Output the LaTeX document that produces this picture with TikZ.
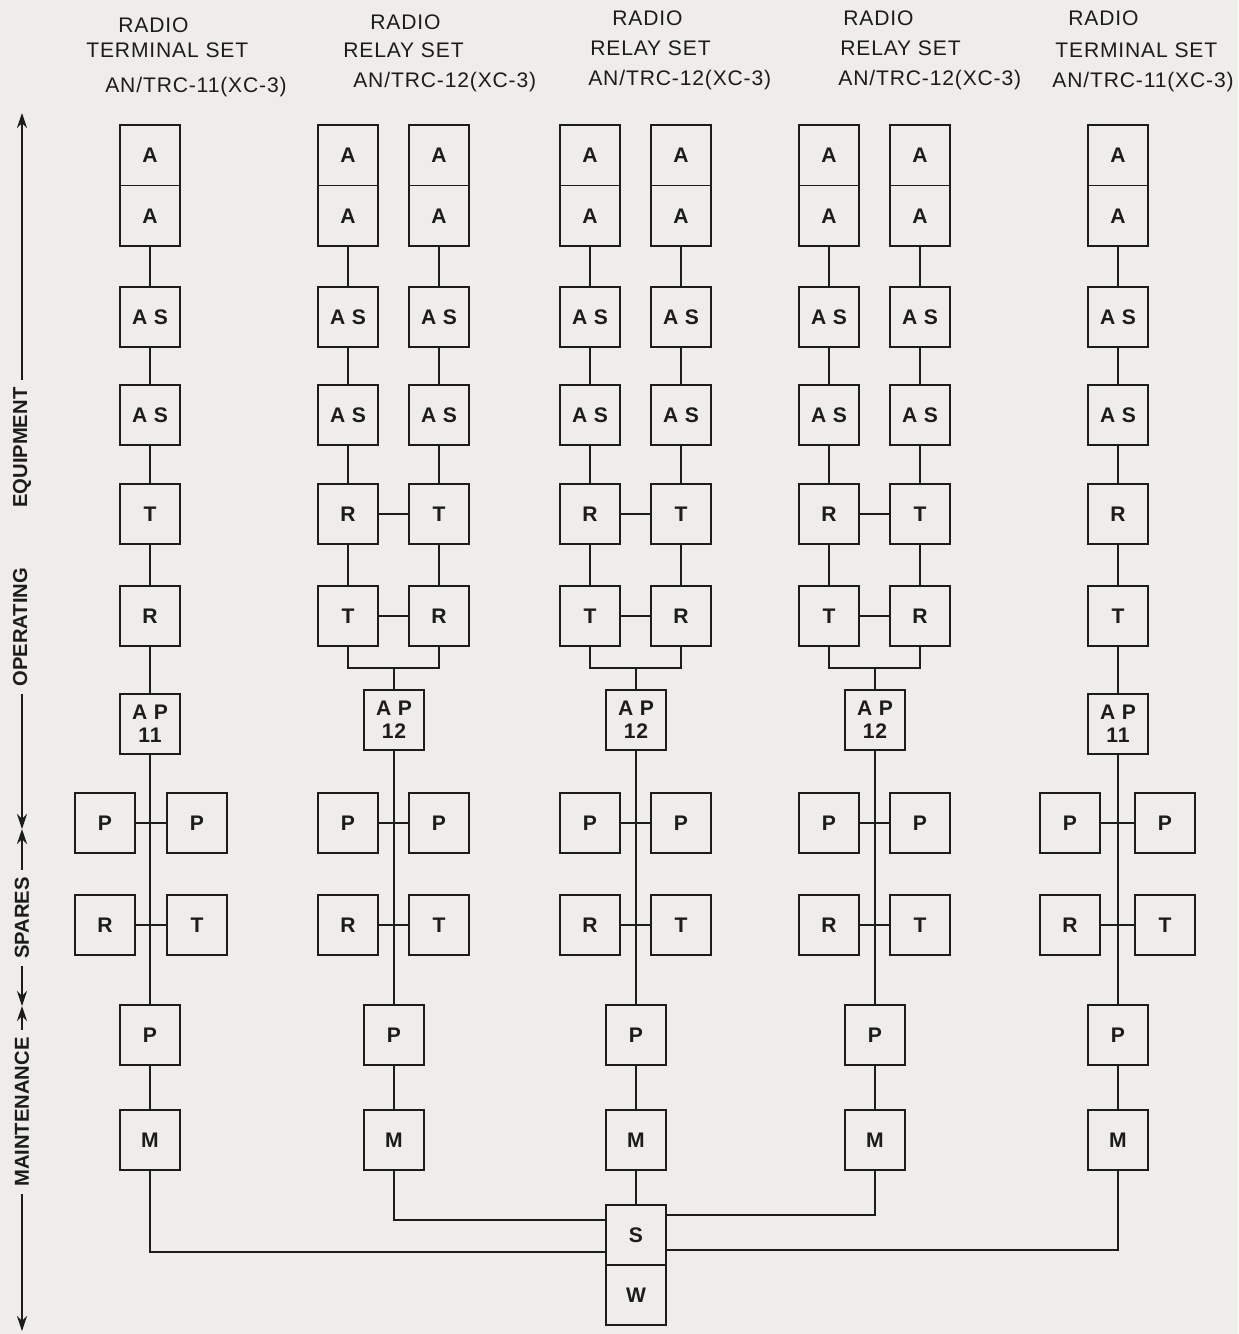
\documentclass[tikz,border=0pt]{standalone}
\usepackage{fontspec}
\setmainfont{Liberation Sans}
\newfontfamily\lettering[LetterSpace=4]{Liberation Sans}
\usetikzlibrary{arrows.meta,positioning}
\definecolor{Paper}{HTML}{EFEDE9}
\definecolor{Ink}{HTML}{1C1C1C}

\begin{document}
\begin{tikzpicture}[x=0.02cm,y=-0.02cm,
  every node/.style={font=\lettering\fontsize{12}{13}\selectfont,text=Ink},
  unit/.style={rectangle,draw=Ink,line width=1.2pt,fill=Paper,
    minimum width=1.2cm,minimum height=1.2cm,inner sep=0pt,align=center,
    font=\lettering\bfseries\fontsize{12}{12}\selectfont},
  half/.style={rectangle,minimum width=1.2cm,minimum height=1.2cm,inner sep=0pt,
    font=\lettering\bfseries\fontsize{12}{12}\selectfont},
  wire/.style={draw=Ink,line width=0.7pt},
  hdr/.style={anchor=west,inner sep=0pt},
  axlbl/.style={rotate=90,font=\bfseries\fontsize{11.5}{12}\selectfont,inner sep=4pt},
  axarrow/.style={draw=Ink,line width=0.9pt,-{Stealth[length=3mm,width=2mm]}}
]
\fill[Paper] (0,0) rectangle (1238,1334);
\useasboundingbox (0,0) rectangle (1238,1334);

% headers
\foreach \n/\xa/\ya/\xb/\yb/\xc/\yc/\setname/\model in {
  1/118/25/86/50/105/87/TERMINAL SET/11,
  2/370/22/343/50/353/82/RELAY SET/12,
  3/612/18/590/48/588/80/RELAY SET/12,
  4/843/18/840/48/838/80/RELAY SET/12,
  5/1068/18/1055/50/1052/82/TERMINAL SET/11}{
  \node[hdr] (hd-\n-a) at (\xa,\ya) {RADIO};
  \node[hdr] (hd-\n-b) at (\xb,\yb) {\setname};
  \node[hdr] (hd-\n-c) at (\xc,\yc) {AN/TRC-\model(XC-3)};
}

% terminal sets
\foreach \n/\x/\ra/\rb/\sl/\sr in {1/150/T/R/105/197, 5/1118/R/T/1070/1165}{
  \node[half] (a-\n) at (\x,155) {A};
  \node[half] (aa-\n) at (\x,216) {A};
  \draw[draw=Ink,line width=1.2pt] (a-\n.north west) rectangle (aa-\n.south east);
  \draw[wire] (a-\n.south west) -- (a-\n.south east);
  \node[unit] (as-\n) at (\x,317) {A S};
  \node[unit] (ass-\n) at (\x,415) {A S};
  \node[unit] (x-\n) at (\x,514) {\ra};
  \node[unit] (y-\n) at (\x,616) {\rb};
  \node[unit] (ap-\n) at (\x,724) {A P\\[1pt]11};
  \node[unit] (pl-\n) at (\sl,823) {P};
  \node[unit] (pr-\n) at (\sr,823) {P};
  \node[unit] (rl-\n) at (\sl,925) {R};
  \node[unit] (tr-\n) at (\sr,925) {T};
  \node[unit] (p-\n) at (\x,1035) {P};
  \node[unit] (m-\n) at (\x,1140) {M};
  \draw[wire] (aa-\n) -- (as-\n) -- (ass-\n) -- (x-\n) -- (y-\n) -- (ap-\n) -- (p-\n) -- (m-\n);
  \draw[wire] (pl-\n) -- (pr-\n);
  \draw[wire] (rl-\n) -- (tr-\n);
}

% relay sets
\foreach \n/\x in {2/394, 3/636, 4/875}{
  \foreach \s/\dx/\ra/\rb in {l/-46/R/T, r/45/T/R}{
    \node[half] (a-\n-\s) at (\x+\dx,155) {A};
    \node[half] (aa-\n-\s) at (\x+\dx,216) {A};
    \draw[draw=Ink,line width=1.2pt] (a-\n-\s.north west) rectangle (aa-\n-\s.south east);
    \draw[wire] (a-\n-\s.south west) -- (a-\n-\s.south east);
    \node[unit] (as-\n-\s) at (\x+\dx,317) {A S};
    \node[unit] (ass-\n-\s) at (\x+\dx,415) {A S};
    \node[unit] (x-\n-\s) at (\x+\dx,514) {\ra};
    \node[unit] (y-\n-\s) at (\x+\dx,616) {\rb};
    \draw[wire] (aa-\n-\s) -- (as-\n-\s) -- (ass-\n-\s) -- (x-\n-\s) -- (y-\n-\s);
  }
  \draw[wire] (x-\n-l) -- (x-\n-r);
  \draw[wire] (y-\n-l) -- (y-\n-r);
  \node[unit] (ap-\n) at (\x,720) {A P\\[1pt]12};
  \coordinate (j-\n) at (\x,668);
  \draw[wire] (y-\n-l.south) |- (j-\n) -| (y-\n-r.south);
  \draw[wire] (j-\n) -- (ap-\n.north);
  \node[unit] (pl-\n) at (\x-46,823) {P};
  \node[unit] (pr-\n) at (\x+45,823) {P};
  \node[unit] (rl-\n) at (\x-46,925) {R};
  \node[unit] (tr-\n) at (\x+45,925) {T};
  \node[unit] (p-\n) at (\x,1035) {P};
  \node[unit] (m-\n) at (\x,1140) {M};
  \draw[wire] (ap-\n) -- (p-\n) -- (m-\n);
  \draw[wire] (pl-\n) -- (pr-\n);
  \draw[wire] (rl-\n) -- (tr-\n);
}

% maintenance shop
\node[unit] (s) at (636,1235) {S};
\node[unit,below=-1.2pt of s] (w) {W};
\draw[wire] (m-3) -- (s);
\draw[wire] (m-1.south) |- (s.west |- 0,1252);
\draw[wire] (m-2.south) |- (s.west |- 0,1220);
\draw[wire] (m-4.south) |- (s.east |- 0,1215);
\draw[wire] (m-5.south) |- (s.east |- 0,1250);

% side scale
\coordinate (ax-top) at (22,113);
\coordinate (ax-mid1) at (22,829);
\coordinate (ax-mid2) at (22,1006);
\coordinate (ax-bot) at (22,1331);
\node[axlbl] (opeq) at (22,537) {OPERATING\hspace{1.2cm}EQUIPMENT};
\node[axlbl] (spares) at (22,918) {SPARES};
\node[axlbl] (maint) at (22,1112) {MAINTENANCE};
\draw[axarrow] (opeq.east) -- (ax-top);
\draw[axarrow] (opeq.west) -- (ax-mid1);
\draw[axarrow] (spares.east) -- (ax-mid1);
\draw[axarrow] (spares.west) -- (ax-mid2);
\draw[axarrow] (maint.east) -- (ax-mid2);
\draw[axarrow] (maint.west) -- (ax-bot);
\end{tikzpicture}
\end{document}
